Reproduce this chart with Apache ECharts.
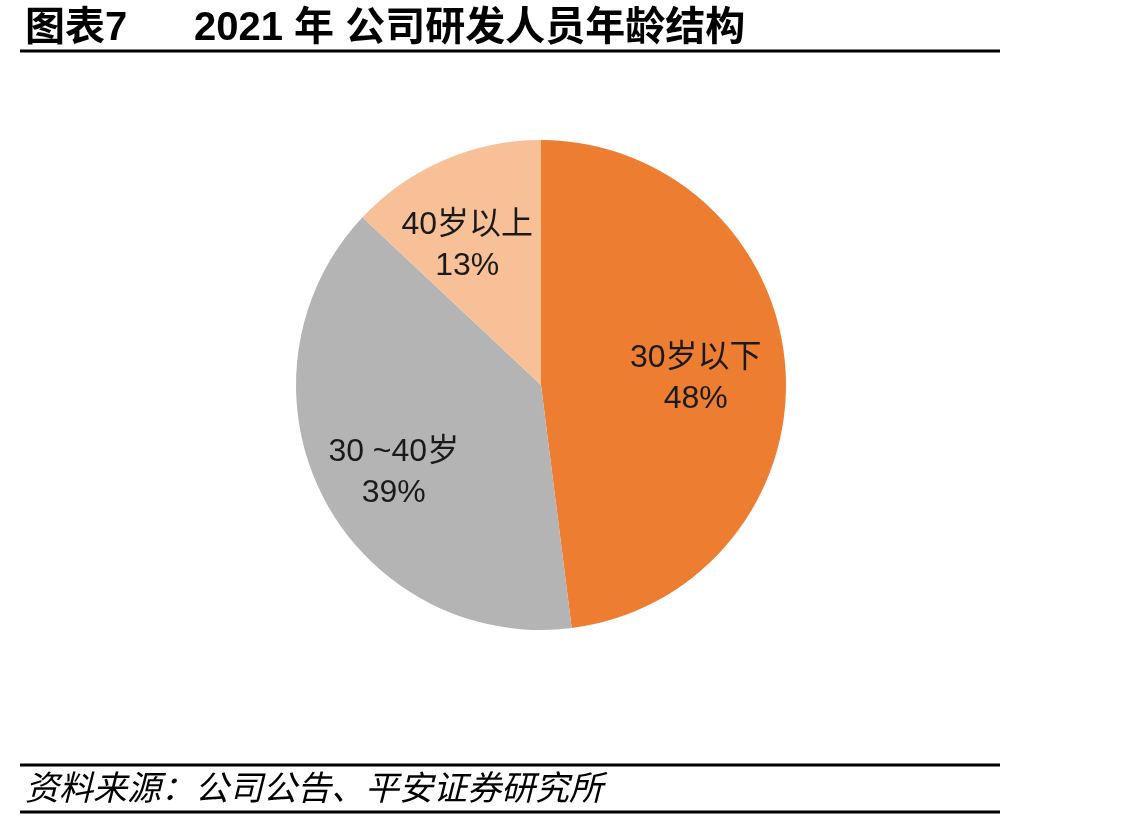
<!DOCTYPE html>
<html>
<head>
<meta charset="utf-8" />
<title>2021年公司研发人员年龄结构</title>
<script src="https://cdn.jsdelivr.net/npm/echarts@6/dist/echarts.min.js"></script>
<style>
    html, body { margin: 0; padding: 0; background: #fff; }
    #main { width: 1148px; height: 821px; }
</style>
</head>
<body>
<div id="main"></div>
<script type="text/javascript">
// 数据
var ageNames = ['30岁以下', '30 ~40岁', '40岁以上'];
var ageValues = [48, 39, 13];
var colors = ['#ED7D31', '#B4B4B4', '#F8C097'];
// 标签微调（Excel 的标签位置）
var labelOffsets = [[-8, 4], [-2, 14], [-9, 10]];

var myChart = echarts.init(document.getElementById('main'));

var pieData = [], labelData = [];
ageNames.forEach(function (n, i) {
    pieData.push({ name: n, value: ageValues[i], itemStyle: { color: colors[i] } });
    labelData.push({ name: n, value: ageValues[i], label: { offset: labelOffsets[i] } });
});

var cjk = '"Liberation Sans", Arial, "Noto Sans CJK SC", sans-serif';

var option = {
    animation: false,
    title: [{
        text: '图表7      2021 年 公司研发人员年龄结构',
        left: 20,
        top: 4,
        textStyle: { fontSize: 40, fontWeight: 'bold', color: '#000', fontFamily: cjk }
    }, {
        text: '资料来源：公司公告、平安证券研究所',
        left: 20,
        top: 769,
        textStyle: { fontSize: 34, fontWeight: 'normal', fontStyle: 'italic', color: '#000', fontFamily: cjk }
    }],
    graphic: [
        { type: 'line', shape: { x1: 20, y1: 51, x2: 1000, y2: 51 }, style: { stroke: '#000', lineWidth: 3 } },
        { type: 'line', shape: { x1: 20, y1: 765, x2: 1000, y2: 765 }, style: { stroke: '#000', lineWidth: 3 } },
        { type: 'line', shape: { x1: 20, y1: 812, x2: 1000, y2: 812 }, style: { stroke: '#000', lineWidth: 3 } }
    ],
    series: [{
        type: 'pie',
        center: [541, 385],
        radius: [0, 245],
        startAngle: 90,
        silent: true,
        label: { show: false },
        labelLine: { show: false },
        itemStyle: { borderWidth: 0 },
        data: pieData
    }, {
        type: 'pie',
        center: [541, 385],
        radius: [75, 245],
        startAngle: 90,
        silent: true,
        itemStyle: { color: 'rgba(0,0,0,0)', borderWidth: 0 },
        label: {
            show: true,
            position: 'inside',
            formatter: '{b}\n{d}%',
            fontSize: 32,
            lineHeight: 41,
            color: '#1a1a1a',
            fontFamily: cjk
        },
        labelLine: { show: false },
        data: labelData
    }]
};

myChart.setOption(option);
</script>
</body>
</html>
